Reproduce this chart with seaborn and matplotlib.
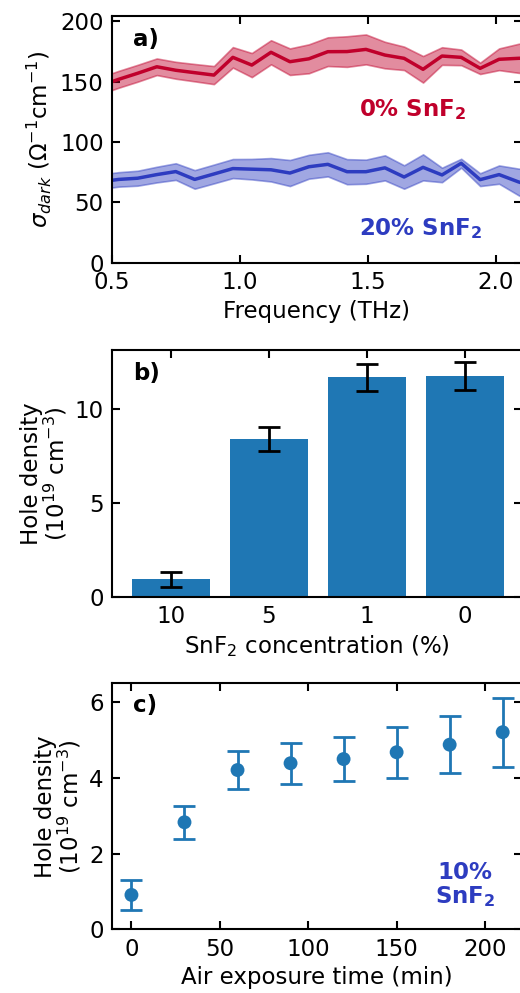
import numpy as np
import pandas as pd
import matplotlib
matplotlib.use('Agg')
import matplotlib.pyplot as plt
import seaborn as sns

# panel a: dark conductivity spectra
freq = [0.452, 0.526, 0.600, 0.675, 0.749, 0.823, 0.898, 0.972, 1.046, 1.121, 1.195, 1.269,
        1.343, 1.418, 1.492, 1.566, 1.641, 1.715, 1.789, 1.864, 1.938, 2.012, 2.087, 2.161]
sigma_0 = [146.5, 152, 157, 162.4, 159.5, 157.5, 155.5, 170.2, 163.8, 174.4, 166.6, 169,
           174.9, 175, 176.8, 172.1, 169.4, 160.3, 171.3, 170.2, 161.1, 168.6, 169.4, 170]
sigma_0_err = [7, 7, 7, 6.9, 7, 7.2, 7.5, 8.5, 10, 10, 11, 12,
               11.9, 12.7, 12.4, 11, 9.7, 11, 7.3, 6.5, 4.7, 9, 12, 14]
sigma_20 = [67, 69, 70, 73, 75.5, 69, 73.5, 78, 77.5, 77, 74.3, 79.5,
            81.5, 75.4, 75.4, 78.6, 71, 79, 72.7, 82.4, 68.8, 73, 67, 62]
sigma_20_err = [6, 6, 6.2, 6.5, 6.9, 7.7, 7.8, 7.9, 8.5, 9.7, 10.8, 9.9,
                10, 10.4, 10, 10.4, 9.7, 10.8, 6, 3.7, 5.3, 7.6, 11, 14]

# panel b: hole density vs SnF2 concentration
conc = ['10', '5', '1', '0']
hole_conc = [0.93, 8.42, 11.69, 11.78]
hole_conc_err = [0.40, 0.64, 0.72, 0.74]

# panel c: hole density vs air exposure
exposure = [0, 30, 60, 90, 120, 150, 180, 210]
hole_air = [0.91, 2.83, 4.21, 4.39, 4.50, 4.68, 4.88, 5.21]
hole_air_err = [0.39, 0.44, 0.51, 0.54, 0.59, 0.68, 0.76, 0.91]

red = '#c0002b'
blue = '#2d3cc0'
bar_blue = '#1f77b4'
fs = 16.5

sns.set_style('ticks')
plt.rcParams['font.family'] = ['DejaVu Sans']
plt.rcParams['font.size'] = fs
plt.rcParams['axes.linewidth'] = 1.5
for k in ('text.color', 'axes.labelcolor', 'xtick.color', 'ytick.color', 'axes.edgecolor'):
    plt.rcParams[k] = 'black'

fig = plt.figure(figsize=(5.2, 9.93), dpi=100)
left, width = 0.2154, 0.7877
ax_a = fig.add_axes([left, 0.7355, width, 0.2484])
ax_b = fig.add_axes([left, 0.3991, width, 0.2484])
ax_c = fig.add_axes([left, 0.0641, width, 0.2477])

# ---- a) ----
df_a = pd.DataFrame({'freq': freq, 's0': sigma_0, 's20': sigma_20})
lo0 = np.array(sigma_0) - np.array(sigma_0_err)
hi0 = np.array(sigma_0) + np.array(sigma_0_err)
lo20 = np.array(sigma_20) - np.array(sigma_20_err)
hi20 = np.array(sigma_20) + np.array(sigma_20_err)
ax_a.fill_between(freq, lo0, hi0, color=red, alpha=0.45, lw=1.2)
ax_a.fill_between(freq, lo20, hi20, color=blue, alpha=0.45, lw=1.2)
sns.lineplot(data=df_a, x='freq', y='s0', color=red, lw=2.5, ax=ax_a)
sns.lineplot(data=df_a, x='freq', y='s20', color=blue, lw=2.5, ax=ax_a)
ax_a.set_xlim(0.5, 2.1)
ax_a.set_ylim(0, 204.5)
ax_a.set_xticks([0.5, 1.0, 1.5, 2.0])
ax_a.set_yticks([0, 50, 100, 150, 200])
ax_a.set_xlabel('Frequency (THz)', fontsize=fs)
ax_a.set_ylabel(r'$\sigma_{dark}$ ($\Omega^{-1}$cm$^{-1}$)', fontsize=fs)
ax_a.text(0.051, 0.903, 'a)', transform=ax_a.transAxes, fontsize=fs, fontweight='bold', va='center')
ax_a.text(0.734, 0.619, r'0% SnF$_\mathbf{2}$', transform=ax_a.transAxes, fontsize=fs,
          fontweight='bold', color=red, ha='center', va='center')
ax_a.text(0.754, 0.139, r'20% SnF$_\mathbf{2}$', transform=ax_a.transAxes, fontsize=fs,
          fontweight='bold', color=blue, ha='center', va='center')

# ---- b) ----
df_b = pd.DataFrame({'conc': conc, 'hole': hole_conc})
sns.barplot(data=df_b, x='conc', y='hole', order=conc, color=bar_blue, saturation=1,
            width=0.8, linewidth=0, ax=ax_b)
ax_b.errorbar(range(len(conc)), hole_conc, yerr=hole_conc_err, fmt='none', ecolor='black',
              elinewidth=2, capsize=8, capthick=2)
ax_b.set_xlim(-0.6, 3.58)
ax_b.set_ylim(0, 13.15)
ax_b.set_yticks([0, 5, 10])
ax_b.set_xlabel(r'SnF$_2$ concentration (%)', fontsize=fs)
ax_b.set_ylabel('Hole density\n($10^{19}$ cm$^{-3}$)', fontsize=fs, linespacing=0.95)
ax_b.text(0.051, 0.906, 'b)', transform=ax_b.transAxes, fontsize=fs, fontweight='bold', va='center')

# ---- c) ----
df_c = pd.DataFrame({'t': exposure, 'hole': hole_air})
ax_c.errorbar(exposure, hole_air, yerr=hole_air_err, fmt='none', ecolor=bar_blue,
              elinewidth=2, capsize=8, capthick=2)
sns.scatterplot(data=df_c, x='t', y='hole', color=bar_blue, s=100, edgecolor='none', ax=ax_c, zorder=3)
ax_c.set_xlim(-11, 220.7)
ax_c.set_ylim(0, 6.5)
ax_c.set_xticks([0, 50, 100, 150, 200])
ax_c.set_yticks([0, 2, 4, 6])
ax_c.set_xlabel('Air exposure time (min)', fontsize=fs)
ax_c.set_ylabel('Hole density\n($10^{19}$ cm$^{-3}$)', fontsize=fs, linespacing=0.95)
ax_c.text(0.051, 0.912, 'c)', transform=ax_c.transAxes, fontsize=fs, fontweight='bold', va='center')
ax_c.text(0.862, 0.18, '10%\n' + r'SnF$_\mathbf{2}$', transform=ax_c.transAxes, fontsize=fs,
          fontweight='bold', color=blue, ha='center', va='center', linespacing=1.0)

for ax in (ax_a, ax_b, ax_c):
    ax.tick_params(direction='in', top=True, right=True, length=6, width=1.5,
                   labelsize=fs, pad=6, colors='black')
    for sp in ax.spines.values():
        sp.set_linewidth(1.5)
        sp.set_visible(True)
        sp.set_color('black')

fig.savefig('out.png', dpi=100)
